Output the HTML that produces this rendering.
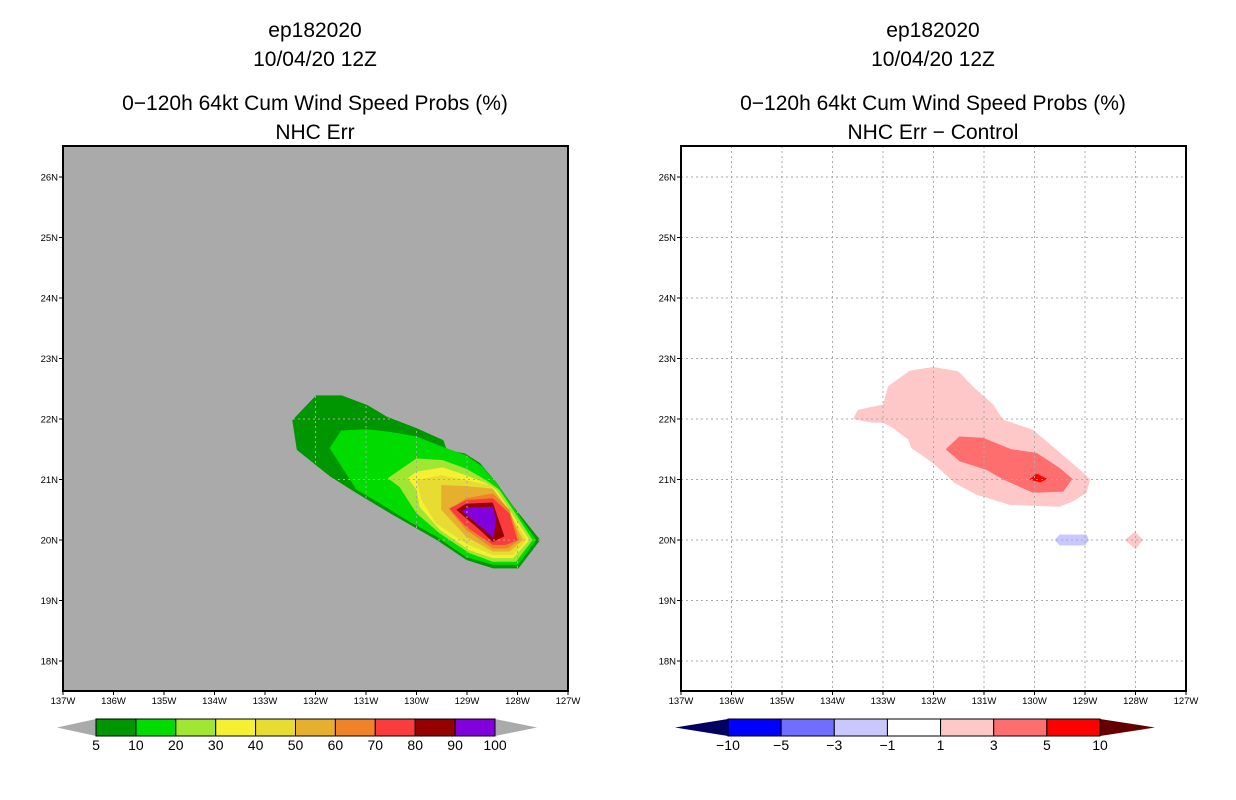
<!DOCTYPE html>
<html><head><meta charset="utf-8"><style>
body{margin:0;background:#fff;}
svg{display:block;font-family:"Liberation Sans",sans-serif;}
</style></head><body>
<svg id="chart" width="1236" height="800">
<g id="left"></g>
<g id="right"></g>
</svg>
<script>
// ---- data ----
const lonTicks = [137,136,135,134,133,132,131,130,129,128,127];
const latTicks = [18,19,20,21,22,23,24,25,26];
const leftLevels = ["5","10","20","30","40","50","60","70","80","90","100"];
const leftColors = ["#009600","#00dc00","#a0e632","#f5f032","#e6dc32","#e6af2d","#f08228","#fa3c3c","#960000","#8200dc"];
const rightLevels = ["−10","−5","−3","−1","1","3","5","10"];
const rightColors = ["#0000ff","#6e6eff","#c8c8ff","#ffffff","#ffc8c8","#ff6e6e","#ff0000"];
const leftPoly5 = [[132.46,21.98],[131.99,22.39],[131.48,22.39],[130.97,22.23],[130.59,22.04],[130.0,21.85],[129.47,21.65],[129.4,21.49],[129.04,21.43],[128.74,21.27],[128.41,20.94],[128.08,20.55],[127.55,20.0],[127.98,19.53],[128.48,19.53],[129.01,19.67],[129.6,20.0],[130.52,20.44],[131.18,20.77],[131.71,21.05],[132.37,21.49]];
const leftPoly10 = [[131.72,21.52],[131.49,21.81],[131.0,21.83],[130.53,21.79],[130.0,21.71],[129.48,21.54],[129.02,21.40],[128.69,21.21],[128.42,20.94],[128.09,20.55],[127.63,20.0],[127.99,19.59],[128.49,19.59],[129.02,19.72],[129.61,20.06],[130.2,20.33],[130.73,20.61],[131.19,20.83]];
const leftPoly20 = [[130.57,21.02],[130.0,21.35],[129.48,21.32],[129.02,21.18],[128.62,20.99],[128.36,20.83],[128.09,20.5],[127.7,20.0],[128.03,19.64],[128.49,19.64],[128.95,19.78],[129.54,20.11],[130.0,20.44],[130.34,20.88]];
const leftPoly30 = [[130.17,21.02],[130.0,21.13],[129.48,21.2],[129.02,21.07],[128.62,20.94],[128.42,20.83],[128.16,20.5],[127.76,20.0],[128.09,19.7],[128.49,19.7],[128.95,19.83],[129.54,20.17],[129.94,20.55],[130.0,20.83]];
const leftPoly40 = [[130.0,20.99],[129.51,21.07],[129.02,20.99],[128.56,20.91],[128.22,20.55],[127.82,20.0],[128.09,19.75],[128.49,19.75],[129.02,19.94],[129.61,20.27],[129.9,20.66]];
const leftPoly50 = [[129.51,20.91],[129.02,20.89],[128.49,20.85],[128.22,20.55],[127.89,20.0],[128.16,19.81],[128.49,19.81],[129.02,20.06],[129.51,20.5]];
const leftPoly60 = [[129.02,20.69],[128.49,20.77],[128.16,20.5],[127.96,20.0],[128.19,19.86],[128.49,19.86],[129.02,20.17],[129.35,20.5]];
const leftPoly70 = [[129.35,20.52],[129.02,20.66],[128.49,20.69],[128.16,20.44],[128.0,20.0],[128.23,19.92],[128.49,19.92],[129.02,20.22]];
const leftPoly80 = [[129.21,20.5],[129.02,20.6],[128.49,20.62],[128.26,20.06],[128.49,19.97],[128.75,20.17]];
const leftPoly90 = [[129.1,20.48],[128.98,20.54],[128.49,20.55],[128.42,20.33],[128.48,20.04]];
const rightPoly1 = [[133.59,22.0],[133.5,22.15],[133.0,22.24],[132.9,22.54],[132.47,22.8],[132.01,22.86],[131.51,22.79],[131.22,22.54],[130.82,22.24],[130.62,21.99],[130.03,21.82],[129.56,21.49],[129.03,21.11],[128.9,21.0],[128.97,20.78],[129.23,20.64],[129.5,20.55],[130.49,20.58],[131.15,20.75],[131.58,20.94],[132.01,21.27],[132.44,21.52],[132.5,21.66],[132.8,21.85],[133.0,21.94],[133.23,21.94]];
const rightPoly3 = [[131.76,21.5],[131.49,21.71],[131.02,21.69],[130.46,21.5],[129.96,21.44],[129.5,21.19],[129.25,21.01],[129.43,20.8],[130.03,20.78],[130.62,21.0],[130.95,21.16],[131.48,21.3]];
const rightPoly5 = [[130.1,21.0],[129.96,21.1],[129.75,21.01],[129.89,20.95]];
const rightPolyNeg = [[129.6,20.0],[129.5,20.09],[128.97,20.09],[128.92,20.0],[129.0,19.91],[129.5,19.91]];
const rightPolyPos = [[128.21,20.0],[128.01,20.14],[127.85,20.0],[128.0,19.85]];

const NS="http://www.w3.org/2000/svg";
function mk(tag,attrs,parent){const e=document.createElementNS(NS,tag);for(const k in attrs)e.setAttribute(k,attrs[k]);parent.appendChild(e);return e;}
const PY0=146, PY1=691;
function xScale(x0){return lon=>x0+(137-lon)*50.5;}
function yScale(lat){return 177+(26-lat)*60.5;}

function panel(g,x0,bg,title3,polys,gridColor,cbColors,cbLevels,cbLeft,cbRight,tipL,tipR,tipLColor,tipRColor){
  const xs=xScale(x0), cx=x0+252;
  const titles=["ep182020","10/04/20 12Z","0−120h 64kt Cum Wind Speed Probs (%)",title3];
  const ty=[37,66,110,139];
  titles.forEach((t,i)=>{const e=mk('text',{x:cx,y:ty[i],'text-anchor':'middle','font-size':'21',fill:'#000'},g);e.textContent=t;
    
    });
  const r=mk('rect',{x:x0,y:PY0,width:505,height:PY1-PY0,fill:bg},g);
  
  
  polys.forEach(p=>{const e=mk('polygon',{points:p.pts.map(q=>xs(q[0])+','+yScale(q[1])).join(' '),fill:p.c},g);
    
    });
  lonTicks.slice(1,-1).forEach(l=>{const e=mk('line',{x1:xs(l),x2:xs(l),y1:PY0,y2:PY1,stroke:gridColor,'stroke-dasharray':'2,3'},g);
    
    });
  latTicks.forEach(l=>{const e=mk('line',{x1:x0,x2:x0+505,y1:yScale(l),y2:yScale(l),stroke:gridColor,'stroke-dasharray':'2,3'},g);
    
    });
  const f=mk('rect',{x:x0,y:PY0,width:505,height:PY1-PY0,fill:'none',stroke:'#000','stroke-width':2},g);
  
  
  lonTicks.forEach(l=>{mk('line',{x1:xs(l),x2:xs(l),y1:PY1,y2:PY1+4,stroke:'#000'},g);
    const e=mk('text',{x:xs(l),y:PY1+13,'text-anchor':'middle','font-size':'9.5',fill:'#000'},g);e.textContent=l+'W';
    
    });
  latTicks.forEach(l=>{mk('line',{x1:x0-4,x2:x0,y1:yScale(l),y2:yScale(l),stroke:'#000'},g);
    const e=mk('text',{x:x0-5,y:yScale(l)+3.5,'text-anchor':'end','font-size':'9.5',fill:'#000'},g);e.textContent=l+'N';
    
    });
  // colorbar
  const n=cbColors.length, w=(cbRight-cbLeft)/n, cy0=719, cy1=736;
  const t1=mk('polygon',{points:`${tipL},${(cy0+cy1)/2} ${cbLeft},${cy0} ${cbLeft},${cy1}`,fill:tipLColor},g);
  
  
  const t2=mk('polygon',{points:`${tipR},${(cy0+cy1)/2} ${cbRight},${cy0} ${cbRight},${cy1}`,fill:tipRColor},g);
  
  
  cbColors.forEach((c,i)=>{const e=mk('rect',{x:cbLeft+i*w,y:cy0,width:w,height:cy1-cy0,fill:c,stroke:'#000','stroke-width':1},g);
    
    });
  const off = cbLevels.length===n+1?0:1;
  cbLevels.forEach((t,i)=>{const e=mk('text',{x:cbLeft+(i+off)*w,y:cy1+14,'text-anchor':'middle','font-size':'14',fill:'#000'},g);e.textContent=t;
    
    });
}
const lp=[leftPoly5,leftPoly10,leftPoly20,leftPoly30,leftPoly40,leftPoly50,leftPoly60,leftPoly70,leftPoly80,leftPoly90].map((p,i)=>({pts:p,c:leftColors[i]}));
panel(document.getElementById('left'),63,'#aaaaaa','NHC Err',lp,'#aaaaaa',leftColors,leftLevels,96,495,57,537,'#aaaaaa','#aaaaaa');
const rp=[{pts:rightPoly1,c:rightColors[4]},{pts:rightPoly3,c:rightColors[5]},{pts:rightPoly5,c:rightColors[6]},{pts:rightPolyNeg,c:rightColors[2]},{pts:rightPolyPos,c:rightColors[4]}];
panel(document.getElementById('right'),681,'#ffffff','NHC Err − Control',rp,'#aaaaaa',rightColors,rightLevels,728,1100,675,1155,'#000064','#640000');
</script>
</body></html>
